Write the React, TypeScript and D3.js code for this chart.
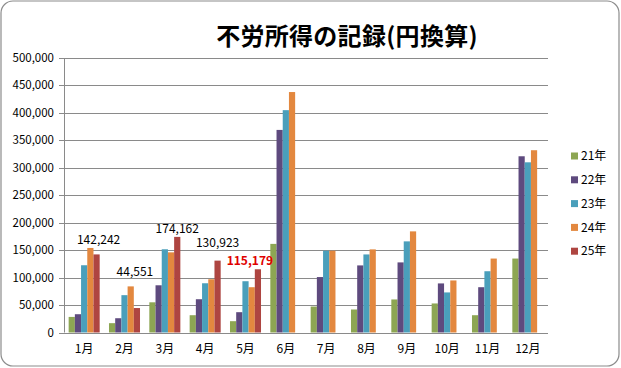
import React from "react";
import * as d3 from "d3";

const months = ["1月", "2月", "3月", "4月", "5月", "6月", "7月", "8月", "9月", "10月", "11月", "12月"];
const seriesNames = ["21年", "22年", "23年", "24年", "25年"];
const y21 = [28400, 17000, 55000, 31500, 20600, 161400, 47300, 41900, 60200, 52900, 31500, 134700];
const y22 = [33300, 26000, 86000, 60600, 37000, 369000, 101000, 122200, 127700, 89400, 82500, 321000];
const y23 = [122500, 68000, 151600, 89700, 93400, 405000, 149000, 142200, 166000, 73000, 111600, 310000];
const y24 = [154000, 84000, 146000, 97000, 82500, 438000, 149000, 151400, 184200, 94800, 134700, 332000];
const y25: (number | null)[] = [142242, 44551, 174162, 130923, 115179, null, null, null, null, null, null, null];
const yTicks = [0, 50000, 100000, 150000, 200000, 250000, 300000, 350000, 400000, 450000, 500000];
const colors = ["#8DA653", "#5E4A7E", "#4A9FBB", "#E3883F", "#AE4541"];

const W = 621, H = 368;
const M = { left: 64, right: 548, top: 58, bottom: 332.5 };

export default function App() {
  const series = [y21, y22, y23, y24, y25];
  const x0 = d3.scaleBand<string>().domain(months).range([M.left, M.right]).paddingInner(0).paddingOuter(0);
  const x1 = d3.scaleBand<number>().domain([0, 1, 2, 3, 4]).range([0, x0.bandwidth()]).paddingOuter(0.75).paddingInner(0);
  const y = d3.scaleLinear().domain([0, 500000]).range([M.bottom, M.top]);
  const fmt = d3.format(",");
  const font = "'Noto Sans CJK JP', 'Noto Sans', sans-serif";
  const labelDy: Record<number, number> = { 0: -4, 1: -10, 2: -4, 3: -14, 4: -4 };
  const labelDx: Record<number, number> = { 0: 2, 1: -2, 2: 0, 3: 0, 4: -8 };

  return (
    <svg width={W} height={H} style={{ position: "absolute", left: 0, top: 0, background: "#fff" }}>
      <rect x={1} y={1} width={W - 3} height={H - 3} rx={12} ry={12} fill="#fff" stroke="#8c8c8c" strokeWidth={1.2} />
      <text x={347} y={45} textAnchor="middle" fontFamily={font} fontWeight="bold" fontSize={24} letterSpacing={0.3} fill="#000">
        不労所得の記録(円換算)
      </text>
      {yTicks.map((t) => (
        <g key={t}>
          {t > 0 && <line x1={M.left} x2={M.right} y1={Math.round(y(t)) + 0.5} y2={Math.round(y(t)) + 0.5} stroke="#8a8a8a" strokeWidth={1} />}
          <line x1={M.left - 5} x2={M.left} y1={Math.round(y(t)) + 0.5} y2={Math.round(y(t)) + 0.5} stroke="#8a8a8a" strokeWidth={1} />
          <text x={M.left - 10} y={y(t)} dy="0.35em" textAnchor="end" fontFamily={font} fontSize={11.5} fill="#000">
            {fmt(t)}
          </text>
        </g>
      ))}
      {months.map((m, i) => (
        <g key={m}>
          {series.map((s, k) => {
            const v = s[i];
            if (v == null) return null;
            return (
              <rect
                key={k}
                x={(x0(m) as number) + (x1(k) as number)}
                y={y(v)}
                width={x1.bandwidth()}
                height={y(0) - y(v)}
                fill={colors[k]}
              />
            );
          })}
          <text x={(x0(m) as number) + x0.bandwidth() / 2} y={353} textAnchor="middle" fontFamily={font} fontSize={12} fill="#000">
            {m}
          </text>
        </g>
      ))}
      {y25.map((v, i) => {
        if (v == null) return null;
        const m = months[i];
        const maxV = d3.max(series.map((s) => s[i] ?? 0)) as number;
        const cx = (x0(m) as number) + (x1(4) as number) + x1.bandwidth() / 2 + labelDx[i];
        return (
          <text key={i} x={cx} y={y(maxV) + labelDy[i]} textAnchor="middle" fontFamily={font} fontSize={12}
            fontWeight={i === 4 ? "bold" : "normal"} fill={i === 4 ? "#E00000" : "#000"}>
            {fmt(v)}
          </text>
        );
      })}
      <line x1={M.left + 0.5} x2={M.left + 0.5} y1={M.top} y2={M.bottom} stroke="#8a8a8a" />
      <line x1={M.left} x2={M.right} y1={Math.round(M.bottom) + 0.5} y2={Math.round(M.bottom) + 0.5} stroke="#8a8a8a" />
      {seriesNames.map((n, k) => (
        <g key={n}>
          <rect x={571} y={152.5 + k * 23.8} width={7} height={7} fill={colors[k]} />
          <text x={581} y={156 + k * 23.8} dy="0.35em" fontFamily={font} fontSize={12} fill="#000">
            {n}
          </text>
        </g>
      ))}
    </svg>
  );
}
